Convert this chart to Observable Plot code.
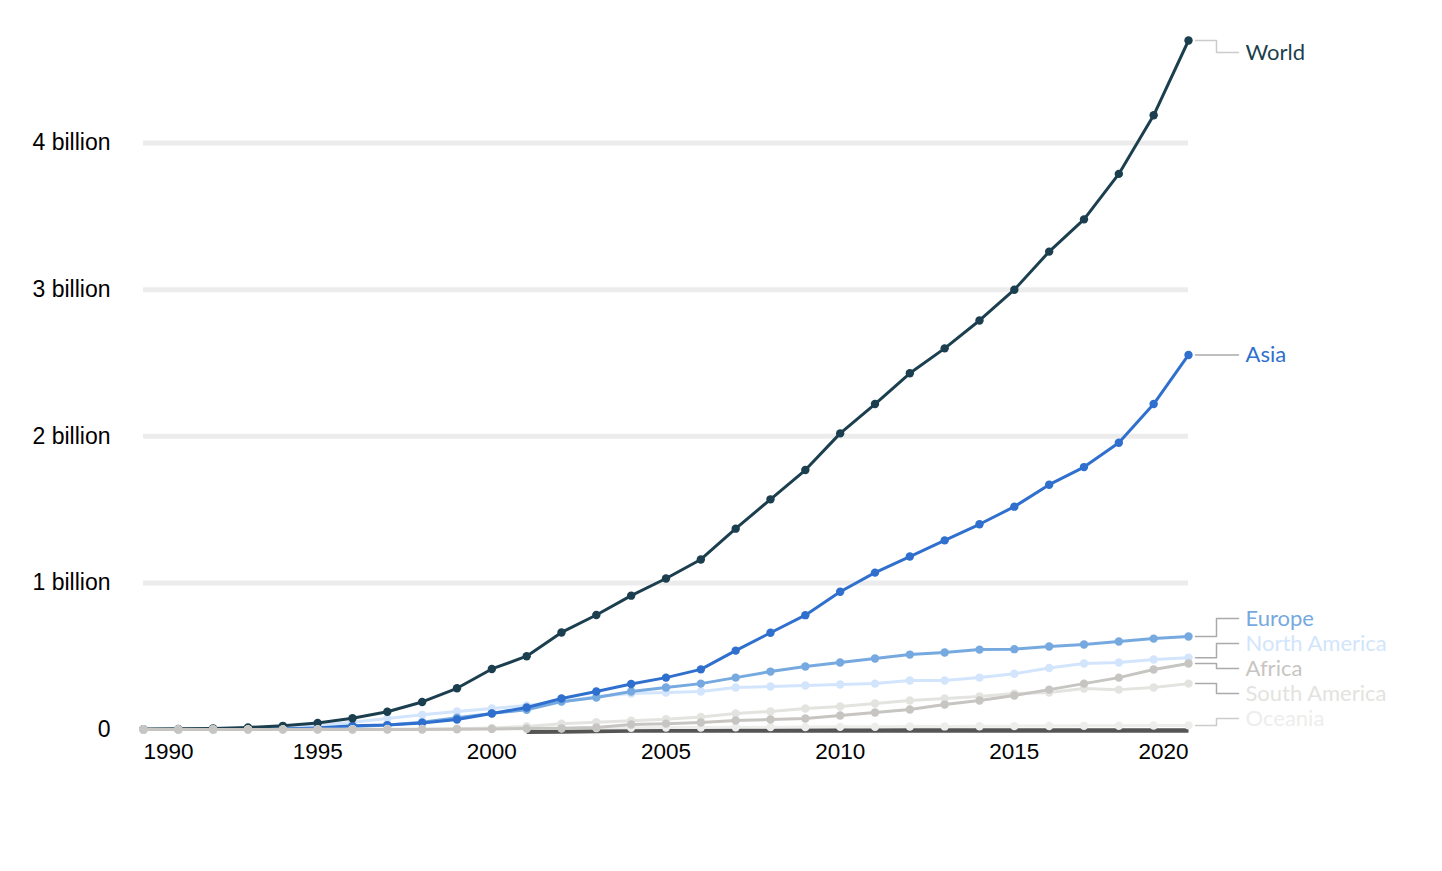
<!DOCTYPE html>
<html><head><meta charset="utf-8">
<script src="https://cdn.jsdelivr.net/npm/d3@7"></script>
<script src="https://cdn.jsdelivr.net/npm/@observablehq/plot@0.6"></script>
<style>body{margin:0;background:#fff}</style>
</head><body><div id="chart"></div>
<script>
// ---- data (billions of internet users) ----
const years = [1990,1991,1992,1993,1994,1995,1996,1997,1998,1999,2000,2001,2002,2003,2004,2005,2006,2007,2008,2009,2010,2011,2012,2013,2014,2015,2016,2017,2018,2019,2020];
const world   = [0.0026,0.0044,0.0069,0.014,0.025,0.045,0.077,0.121,0.188,0.281,0.413,0.500,0.662,0.781,0.913,1.03,1.16,1.37,1.57,1.77,2.02,2.22,2.43,2.60,2.79,3.00,3.26,3.48,3.79,4.19,4.70];
const asia    = [0,0,0,0.001,0.003,0.01,0.025,0.03,0.045,0.068,0.109,0.15,0.211,0.259,0.31,0.354,0.41,0.538,0.66,0.78,0.94,1.07,1.18,1.29,1.40,1.52,1.67,1.79,1.956,2.22,2.555];
const europe  = [0,0,0,0.001,0.003,0.008,0.018,0.03,0.05,0.08,0.11,0.135,0.19,0.218,0.259,0.286,0.313,0.354,0.395,0.43,0.457,0.484,0.511,0.525,0.545,0.548,0.566,0.58,0.60,0.62,0.634];
const northAmerica = [0,0.001,0.003,0.006,0.012,0.025,0.05,0.075,0.1,0.123,0.143,0.164,0.19,0.225,0.245,0.252,0.259,0.286,0.293,0.30,0.307,0.313,0.334,0.334,0.354,0.38,0.42,0.45,0.457,0.477,0.49];
const africa  = [0,0,0,0,0,0,0,0,0,0.002,0.004,0.006,0.008,0.014,0.034,0.04,0.048,0.061,0.068,0.075,0.095,0.116,0.136,0.17,0.198,0.232,0.272,0.313,0.354,0.409,0.45];
const southAmerica = [0,0,0,0,0,0,0,0,0.002,0.005,0.01,0.02,0.04,0.05,0.06,0.07,0.085,0.109,0.123,0.143,0.157,0.177,0.198,0.211,0.225,0.245,0.252,0.28,0.272,0.286,0.313];
const oceania = [0,0,0,0,0,0.001,0.002,0.003,0.004,0.005,0.006,0.007,0.009,0.01,0.012,0.013,0.014,0.015,0.016,0.017,0.018,0.019,0.02,0.021,0.022,0.023,0.024,0.025,0.026,0.027,0.028];
// dark band along the baseline
const bandYears  = [2001,2002,2003,2004,2005,2006,2007,2008,2009,2010,2011,2012,2013,2014,2015,2016,2017,2018,2019,2020];
const bandValues = [-0.016,-0.013,-0.010,-0.007,-0.007,-0.007,-0.007,-0.007,-0.007,-0.007,-0.007,-0.007,-0.007,-0.007,-0.007,-0.007,-0.007,-0.007,-0.007,-0.007];

const yTicks = [0,1,2,3,4];
const gridTicks = [1,2,3,4];
const xTickYears = [1990,1995,2000,2005,2010,2015,2020];

// drawing order: first = bottom
const seriesNames  = ["North America","Europe","Asia","World","Oceania","South America","Africa"];
const seriesValues = [northAmerica, europe, asia, world, oceania, southAmerica, africa];
const seriesColors = ["#d2e5fc","#76a9e0","#2f6fcd","#1c3f4f","#ededeb","#e3e3e0","#c7c5c1"];
const connectorColors = ["#aaaaaa","#aaaaaa","#aaaaaa","#cccccc","#cccccc","#aaaaaa","#aaaaaa"];

// ---- layout ----
const W = 1442, H = 800, mL = 143, mR = 254, mT = 40, mB = 71;
const yMax = d3.max(world);
const yS = Plot.scale({y: {domain: [0, yMax], range: [H - mB, mT]}});
const pxPerYear = (W - mL - mR) / (years[years.length-1] - years[0]);
const lastYear = years[years.length-1];

// label dodge in pixel space
const labels = seriesNames.map((name, i) => {
  const v = seriesValues[i][seriesValues[i].length-1];
  return {name, color: seriesColors[i], conn: connectorColors[i], value: v, py: yS.apply(v)};
});
(function dodge(items, gap, lo, hi){
  const sorted = items.slice().sort((a,b) => a.py - b.py);
  let clusters = sorted.map(d => ({items:[d]}));
  const place = c => {
    const n = c.items.length;
    const center = d3.mean(c.items, d => d.py);
    let s = center - gap*(n-1)/2;
    s = Math.max(lo, Math.min(hi - gap*(n-1), s));
    c.start = s;
  };
  let changed = true;
  while (changed) {
    changed = false;
    clusters.forEach(place);
    for (let i = 1; i < clusters.length; i++) {
      const a = clusters[i-1], b = clusters[i];
      if (a.start + gap*a.items.length > b.start) {
        clusters.splice(i-1, 2, {items: a.items.concat(b.items)});
        changed = true; break;
      }
    }
  }
  clusters.forEach(c => c.items.forEach((d, k) => { d.ly = c.start + gap*k; }));
})(labels, 25, mT + 12, H - mB - 11);
labels.forEach(d => d.labelValue = yS.invert(d.ly));

const xStart = lastYear + 7/pxPerYear, xMid = lastYear + 28/pxPerYear, xEnd = lastYear + 50/pxPerYear, xText = lastYear + 57/pxPerYear;

const marks = [];
marks.push(Plot.ruleY(gridTicks, {stroke: "#ececec", strokeWidth: 5}));
marks.push(Plot.axisY({ticks: yTicks, tickSize: 0, tickPadding: 33, tickFormat: d => d === 0 ? "0" : d + " billion", fill: "#000", fontSize: 23}));
marks.push(Plot.line(bandYears.map((y,i) => ({year: y, value: bandValues[i]})), {x: "year", y: "value", stroke: "#555555", strokeWidth: 4.5, strokeLinecap: "butt"}));
seriesNames.forEach((name, i) => {
  const data = years.map((y, j) => ({year: y, value: seriesValues[i][j]}));
  marks.push(Plot.line(data, {x: "year", y: "value", stroke: seriesColors[i], strokeWidth: 3}));
  marks.push(Plot.dot(data, {x: "year", y: "value", fill: seriesColors[i], r: 4.2}));
});
labels.forEach(d => {
  const pts = [{x: xStart, y: d.value}, {x: xMid, y: d.value}, {x: xMid, y: d.labelValue}, {x: xEnd, y: d.labelValue}];
  marks.push(Plot.line(pts, {x: "x", y: "y", stroke: d.conn, strokeWidth: 1.5, curve: "linear"}));
  marks.push(Plot.text([d], {x: () => xText, y: "labelValue", text: "name", fill: d.color, textAnchor: "start", fontFamily: "Lato", fontSize: 22}));
});
const xLab = {x: d => d, frameAnchor: "bottom", dy: 29, text: d => String(d), fill: "#000", fontSize: 22.5};
marks.push(Plot.text(xTickYears.filter(y => y === 1990), {...xLab, textAnchor: "start"}));
marks.push(Plot.text(xTickYears.filter(y => y !== 1990 && y !== 2020), {...xLab, textAnchor: "middle"}));
marks.push(Plot.text(xTickYears.filter(y => y === 2020), {...xLab, textAnchor: "end"}));

const chart = Plot.plot({
  width: W, height: H,
  marginLeft: mL, marginRight: mR, marginTop: mT, marginBottom: mB,
  x: {domain: [years[0], lastYear], axis: null},
  y: {domain: [0, yMax], axis: null},
  style: {fontFamily: "'Liberation Sans', Arial, sans-serif", fontSize: "22px", background: "#fff", overflow: "visible"},
  marks
});
document.getElementById("chart").appendChild(chart);
</script>
</body></html>
